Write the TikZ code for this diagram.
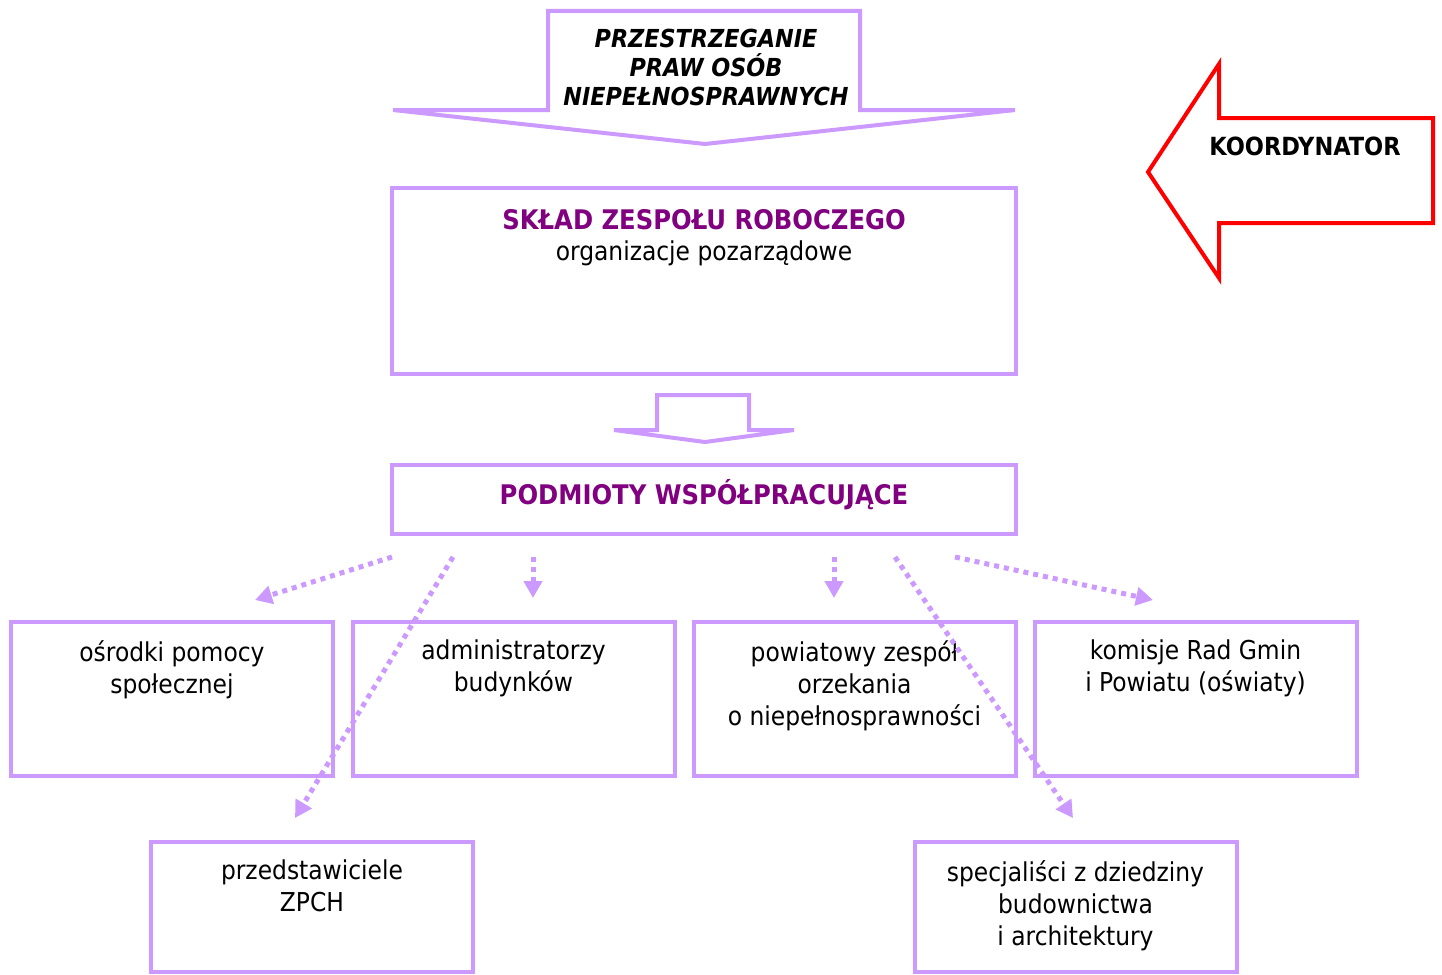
\documentclass[tikz,border=0pt]{standalone}
\usepackage{fontspec}
\setmainfont{DejaVu Sans Condensed}
\usetikzlibrary{positioning,arrows.meta}
\definecolor{lila}{HTML}{CC99FF}
\definecolor{fiolet}{HTML}{800080}
\definecolor{czerw}{HTML}{FF0000}

\begin{document}
\begin{tikzpicture}[x=1pt, y=-1pt, font=\fontsize{26}{32}\selectfont,
	box/.style={draw=lila, line width=4pt, minimum width=322pt, minimum height=154pt, inner sep=0pt},
	wide/.style={box, minimum width=624pt},
	txt/.style={align=center, inner sep=0pt},
	title/.style={txt, anchor=base, text=fiolet, font=\fontsize{27}{32}\selectfont\bfseries},
	dots/.style={draw=lila, line width=5pt, dash pattern=on 5pt off 5pt, -{Triangle[length=17pt,width=18pt]}}]
	\useasboundingbox (0,0) rectangle (1442,974);

	% strzalki
	\draw[lila, line width=4pt, line join=miter, fill=white] (548,11) -- (860,11) -- (860,110) -- (1015,110) -- (705,144) -- (393,110) -- (548,110) -- cycle;
	\node[txt, font=\fontsize{24.8}{29}\selectfont\bfseries\itshape] (prawa) at (706,67) {PRZESTRZEGANIE\\PRAW OSÓB\\NIEPEŁNOSPRAWNYCH};
	\draw[czerw, line width=4pt, line join=miter] (1148,172) -- (1219,64) -- (1219,118) -- (1433,118) -- (1433,223) -- (1219,223) -- (1219,278) -- cycle;
	\node[txt, font=\fontsize{25}{29}\selectfont\bfseries] (koord) at (1305,146) {KOORDYNATOR};
	\draw[lila, line width=4pt, line join=miter] (657,395) -- (749,395) -- (749,430) -- (794,430) -- (705,442) -- (614,430) -- (657,430) -- cycle;

	% zespol
	\node[wide, minimum height=186pt] (sklad) at (704,281) {};
	\node[title] (skladt) at (704,229) {SKŁAD ZESPOŁU ROBOCZEGO};
	\node[txt, anchor=base] (ngo) at (704,260) {organizacje pozarządowe};
	\node[wide, minimum height=69pt] (podm) at (704,499.5) {};
	\node[title] (podmt) at (704,504) {PODMIOTY WSPÓŁPRACUJĄCE};

	% podmioty
	\node[box] (osp) at (172,699) {};
	\node[box] (adm) at (513.5,699) {};
	\node[box] (pzo) at (854.5,699) {};
	\node[box] (kom) at (1195.5,699) {};
	\node[box, minimum height=130pt] (zpch) at (312,907) {};
	\node[box, minimum height=130pt] (spec) at (1075.5,907) {};
	\node[txt, below=20pt of osp.north] {ośrodki pomocy\\społecznej};
	\node[txt, below=20pt of adm.north] {administratorzy\\budynków};
	\node[txt, below=20pt of pzo.north] {powiatowy zespół\\orzekania\\o niepełnosprawności};
	\node[txt, below=20pt of kom.north] {komisje Rad Gmin\\i Powiatu (oświaty)};
	\node[txt, below=20pt of zpch.north] {przedstawiciele\\ZPCH};
	\node[txt, below=20pt of spec.north] {specjaliści z dziedziny\\budownictwa\\i architektury};

	% strzalki kropkowane
	\coordinate (s1) at (392,557); \coordinate (e1) at (255,600);
	\coordinate (s2) at (453,557); \coordinate (e2) at (295,818);
	\coordinate (s3) at (533,557); \coordinate (e3) at (533,598);
	\coordinate (s4) at (834,557); \coordinate (e4) at (834,598);
	\coordinate (s5) at (895,557); \coordinate (e5) at (1073,818);
	\coordinate (s6) at (955,557); \coordinate (e6) at (1153,600);
	\foreach \i in {1,...,6}
		\draw[dots] (s\i) -- (e\i);
\end{tikzpicture}
\end{document}
